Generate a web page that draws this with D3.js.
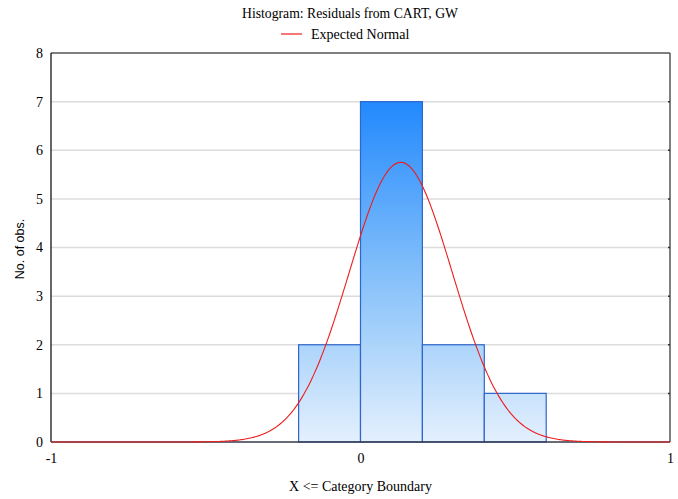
<!DOCTYPE html>
<html>
<head>
<meta charset="utf-8">
<script src="https://cdn.jsdelivr.net/npm/d3@7"></script>
<style>
  html, body { margin: 0; padding: 0; background: #fff; }
  svg { display: block; }
  .serif { font-family: "Liberation Serif", "Times New Roman", serif; }
  .sans { font-family: "Liberation Sans", Arial, sans-serif; }
</style>
</head>
<body>
<svg id="chart" width="678" height="499"></svg>
<script>
// Histogram bins: upper boundaries (X <= boundary) and counts
const binStarts = [-0.4, -0.2, 0.0, 0.2, 0.4];
const binEnds   = [-0.2,  0.0, 0.2, 0.4, 0.6];
const counts    = [0, 2, 7, 2, 1];

// Expected normal parameters (fitted to the residuals)
const normalMean = [0.13];
const normalSd   = [0.1665];

const xTicks = [-1, 0, 1];
const yTicks = [0, 1, 2, 3, 4, 5, 6, 7, 8];

const title = "Histogram: Residuals from CART, GW";
const legendLabel = "Expected Normal";
const xTitle = "X <= Category Boundary";
const yTitle = "No. of obs.";

const margin = { left: 51, right: 8, top: 53, bottom: 57 };
const W = 678, H = 499;
const svg = d3.select("#chart");

const x = d3.scaleLinear().domain([-1, 1]).range([margin.left, W - margin.right]);
const y = d3.scaleLinear().domain([0, 8]).range([H - margin.bottom, margin.top]);

// Vertical gradient spanning the full plot height
const defs = svg.append("defs");
const grad = defs.append("linearGradient")
  .attr("id", "barFill")
  .attr("gradientUnits", "userSpaceOnUse")
  .attr("x1", 0).attr("x2", 0)
  .attr("y1", y(7)).attr("y2", y(0));
grad.append("stop").attr("offset", 0).attr("stop-color", "#2289fd");
grad.append("stop").attr("offset", 0.55).attr("stop-color", "#8cc4fa");
grad.append("stop").attr("offset", 1).attr("stop-color", "#e4f0fd");

// Grid lines
svg.append("g")
  .selectAll("line")
  .data(yTicks.filter(t => t > 0 && t < 8))
  .join("line")
  .attr("x1", x(-1)).attr("x2", x(1))
  .attr("y1", d => y(d)).attr("y2", d => y(d))
  .attr("stroke", "#dcdcdc").attr("stroke-width", 1.5);

// Bars
const bins = counts.map((c, i) => ({ x0: binStarts[i], x1: binEnds[i], n: c }));
svg.append("g")
  .selectAll("rect")
  .data(bins)
  .join("rect")
  .attr("x", d => x(d.x0))
  .attr("y", d => y(d.n))
  .attr("width", d => x(d.x1) - x(d.x0))
  .attr("height", d => y(0) - y(d.n))
  .attr("fill", "url(#barFill)")
  .attr("stroke", "#2f66cc")
  .attr("stroke-width", 1.2);

// Frame: left, top, right and baseline
const frame = svg.append("g");
frame.append("line").attr("x1", x(-1)).attr("x2", x(1)).attr("y1", y(8)).attr("y2", y(8))
  .attr("stroke", "#000").attr("stroke-width", 1.2);
frame.append("line").attr("x1", x(-1)).attr("x2", x(-1)).attr("y1", y(8)).attr("y2", y(0))
  .attr("stroke", "#000").attr("stroke-width", 1.2);
frame.append("line").attr("x1", x(1)).attr("x2", x(1)).attr("y1", y(8)).attr("y2", y(0))
  .attr("stroke", "#555").attr("stroke-width", 1.5);
frame.append("line").attr("x1", x(-1)).attr("x2", x(1)).attr("y1", y(0)).attr("y2", y(0))
  .attr("stroke", "#333a4a").attr("stroke-width", 1.5);

// Short inward ticks on the right border
frame.selectAll("line.rt")
  .data(yTicks.filter(t => t > 0 && t < 8))
  .join("line").attr("class", "rt")
  .attr("x1", x(1) - 2).attr("x2", x(1))
  .attr("y1", d => y(d)).attr("y2", d => y(d))
  .attr("stroke", "#333").attr("stroke-width", 1.5);

// Expected normal curve, scaled to counts per bin
const total = d3.sum(counts);
const binWidth = binEnds[0] - binStarts[0];
const mu = normalMean[0], sd = normalSd[0];
const density = v => total * binWidth / (sd * Math.sqrt(2 * Math.PI)) *
  Math.exp(-0.5 * ((v - mu) / sd) ** 2);
const curveX = d3.range(-1, 1.0001, 0.004);
svg.append("path")
  .datum(curveX)
  .attr("fill", "none")
  .attr("stroke", "#ee1c1c")
  .attr("stroke-width", 1.1)
  .attr("d", d3.line().x(d => x(d)).y(d => y(density(d))));

// Axes labels (plain hyphen for negatives)
const fmt = d => String(d);

const yAxis = d3.axisLeft(y).tickValues(yTicks).tickFormat(fmt).tickSize(0).tickPadding(8);
const gy = svg.append("g").attr("transform", `translate(${x(-1)},0)`).call(yAxis)
  .attr("font-family", null).attr("font-size", null).attr("class", "serif");
gy.select(".domain").remove();
gy.selectAll("text").attr("font-size", 14).attr("fill", "#000");

const xAxis = d3.axisBottom(x).tickValues(xTicks).tickFormat(fmt).tickSize(0).tickPadding(11);
const gx = svg.append("g").attr("transform", `translate(0,${y(0)})`).call(xAxis)
  .attr("font-family", null).attr("font-size", null).attr("class", "serif");
gx.select(".domain").remove();
gx.selectAll("text").attr("font-size", 14).attr("fill", "#000");

// Titles
svg.append("text")
  .attr("class", "serif")
  .attr("x", 350).attr("y", 18)
  .attr("text-anchor", "middle")
  .attr("font-size", 13.7)
  .text(title);

svg.append("line")
  .attr("x1", 281).attr("x2", 302).attr("y1", 34).attr("y2", 34)
  .attr("stroke", "#ee1c1c").attr("stroke-width", 1.2);
svg.append("text")
  .attr("class", "serif")
  .attr("x", 311).attr("y", 39)
  .attr("font-size", 14)
  .text(legendLabel);

svg.append("text")
  .attr("class", "serif")
  .attr("x", x(0)).attr("y", 491)
  .attr("text-anchor", "middle")
  .attr("font-size", 14)
  .text(xTitle);

svg.append("text")
  .attr("class", "sans")
  .attr("transform", `translate(24,249) rotate(-90)`)
  .attr("text-anchor", "middle")
  .attr("font-size", 12.5)
  .text(yTitle);
</script>
</body>
</html>
